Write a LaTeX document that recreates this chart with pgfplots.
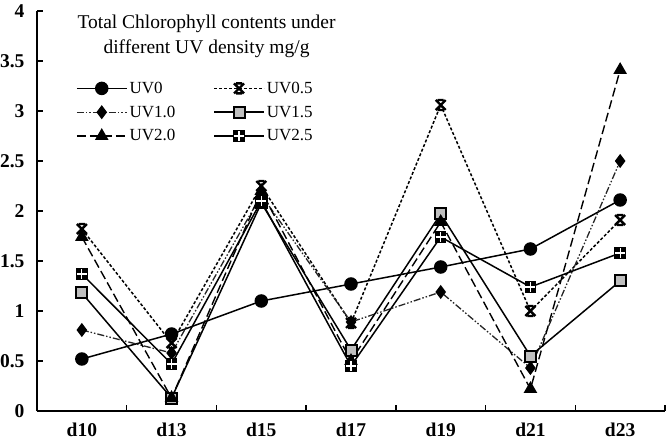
\documentclass[border=0pt]{standalone}
\usepackage{fontspec}
\setmainfont{Liberation Serif}
\usepackage{pgfplots}
\pgfplotsset{compat=1.18}
\pgfdeclareplotmark{crosssq}{%
  \pgfpathrectangle{\pgfqpoint{-\pgfplotmarksize}{-\pgfplotmarksize}}{\pgfqpoint{2\pgfplotmarksize}{2\pgfplotmarksize}}%
  \pgfusepathqfillstroke
  \begin{pgfscope}
  \pgfsetstrokecolor{white}\pgfsetlinewidth{1.2pt}\pgfsetdash{}{0pt}%
  \pgfpathmoveto{\pgfqpoint{0pt}{-\pgfplotmarksize}}\pgfpathlineto{\pgfqpoint{0pt}{\pgfplotmarksize}}%
  \pgfpathmoveto{\pgfqpoint{-\pgfplotmarksize}{0pt}}\pgfpathlineto{\pgfqpoint{\pgfplotmarksize}{0pt}}%
  \pgfusepathqstroke
  \end{pgfscope}}
\pgfdeclareplotmark{hourglass}{%
  \pgfpathmoveto{\pgfqpoint{-\pgfplotmarksize}{\pgfplotmarksize}}\pgfpathlineto{\pgfqpoint{\pgfplotmarksize}{-\pgfplotmarksize}}%
  \pgfpathmoveto{\pgfqpoint{-\pgfplotmarksize}{-\pgfplotmarksize}}\pgfpathlineto{\pgfqpoint{\pgfplotmarksize}{\pgfplotmarksize}}%
  \pgfpathmoveto{\pgfqpoint{-0.6\pgfplotmarksize}{\pgfplotmarksize}}\pgfpathlineto{\pgfqpoint{0.6\pgfplotmarksize}{\pgfplotmarksize}}%
  \pgfpathmoveto{\pgfqpoint{-0.6\pgfplotmarksize}{-\pgfplotmarksize}}\pgfpathlineto{\pgfqpoint{0.6\pgfplotmarksize}{-\pgfplotmarksize}}%
  \pgfusepathqstroke}
\begin{document}
\begin{tikzpicture}
\useasboundingbox (0pt,0pt) rectangle (666pt,442pt);
\begin{axis}[
  at={(37pt,31pt)}, anchor=south west,
  scale only axis, width=628pt, height=400pt,
  xmin=-0.5, xmax=6.5, ymin=0, ymax=4,
  axis x line*=bottom, axis y line*=left,
  axis line style={line width=2pt},
  font=\fontsize{17}{20}\selectfont,
  xtick={0,1,2,3,4,5,6},
  xticklabels={d10,d13,d15,d17,d19,d21,d23},
  major x tick style={draw=none},
  minor xtick={0.5,1.5,2.5,3.5,4.5,5.5,6.5},
  minor tick length=6pt, major tick length=6pt,
  tick align=inside,
  tick style={line width=1.5pt, black},
  ytick={0,0.5,1,1.5,2,2.5,3,3.5,4},
  yticklabels={0,0.5,1,1.5,2,2.5,3,3.5,4},
  ticklabel style={font=\fontsize{19.5}{22}\selectfont\bfseries},
  xticklabel style={yshift=-8pt},
  yticklabel style={xshift=-9pt},
  clip=false,
  legend style={draw=none, fill=none, at={(0.057,0.833)}, anchor=north west,
    font=\fontsize{17}{20}\selectfont, row sep=7pt,
    /tikz/every even column/.append style={column sep=36pt}},
  legend columns=2, legend cell align=left,
  legend image code/.code={\draw[mark repeat=2,mark phase=2] plot coordinates {(0pt,0pt) (25pt,0pt) (50pt,0pt)};},
]
\node[align=center, font=\fontsize{19.5}{25}\selectfont] at (rel axis cs:0.27,0.937) {Total Chlorophyll contents under\\different UV density mg/g};
% UV0
\addplot[black, line width=1.5pt, mark=*, mark size=6pt, mark options={solid}] coordinates {
 (0,0.52) (1,0.77) (2,1.10) (3,1.27) (4,1.44) (5,1.62) (6,2.11)};
\addlegendentry{UV0}
% UV0.5
\addplot[black, line width=1.5pt, dash pattern=on 3pt off 2pt, mark=hourglass, mark size=5pt, mark options={solid, line width=2.4pt}] coordinates {
 (0,1.82) (1,0.68) (2,2.25) (3,0.88) (4,3.06) (5,1.00) (6,1.91)};
\addlegendentry{UV0.5}
% UV1.0
\addplot[black!85, line width=1.3pt, dash pattern=on 7pt off 2pt on 1.5pt off 2pt on 1.5pt off 2pt, mark=diamond*, mark size=6pt, mark options={solid, black}] coordinates {
 (0,0.81) (1,0.58) (2,2.16) (3,0.89) (4,1.19) (5,0.43) (6,2.50)};
\addlegendentry{UV1.0}
% UV1.5
\addplot[black, line width=1.5pt, mark=square*, mark size=5.5pt, mark options={solid, fill=black!25, line width=2pt}] coordinates {
 (0,1.18) (1,0.13) (2,2.08) (3,0.61) (4,1.97) (5,0.55) (6,1.30)};
\addlegendentry{UV1.5}
% UV2.0
\addplot[black, line width=1.4pt, dash pattern=on 9pt off 4pt, mark=triangle*, mark size=6.5pt, mark options={solid}] coordinates {
 (0,1.74) (1,0.13) (2,2.20) (3,0.50) (4,1.89) (5,0.22) (6,3.41)};
\addlegendentry{UV2.0}
% UV2.5
\addplot[black, line width=1.5pt, mark=crosssq, mark size=5pt, mark options={solid}] coordinates {
 (0,1.37) (1,0.47) (2,2.10) (3,0.45) (4,1.74) (5,1.24) (6,1.58)};
\addlegendentry{UV2.5}
\end{axis}
\end{tikzpicture}
\end{document}
